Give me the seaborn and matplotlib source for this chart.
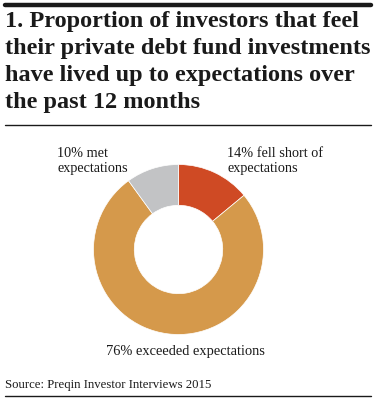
import matplotlib
matplotlib.use("Agg")
import matplotlib.pyplot as plt
import seaborn as sns

# Données du graphique
categories = ["14% fell short of\nexpectations", "76% exceeded expectations", "10% met\nexpectations"]
values = [14, 76, 10]
colors = ["#cf4a24", "#d5994b", "#c2c3c5"]

title = ("1. Proportion of investors that feel\n"
         "their private debt fund investments\n"
         "have lived up to expectations over\n"
         "the past 12 months")
source = "Source: Preqin Investor Interviews 2015"

sns.set_theme(style="white")
plt.rcParams["font.family"] = ["Liberation Serif", "DejaVu Serif"]

fig = plt.figure(figsize=(3.76, 3.99), dpi=100)
W, H = 376, 399

# Lignes horizontales
fig.add_artist(plt.Line2D([5 / W, 371 / W], [1 - 5 / H, 1 - 5 / H], color="#1a1a1a", lw=3.2))
fig.add_artist(plt.Line2D([5 / W, 371 / W], [1 - 125 / H, 1 - 125 / H], color="#1a1a1a", lw=1.0))
fig.add_artist(plt.Line2D([5 / W, 371 / W], [1 - 396 / H, 1 - 396 / H], color="#1a1a1a", lw=1.0))

fig.text(5 / W, 1 - 11 / H, title, ha="left", va="top", fontsize=17.5,
         fontweight="bold", color="#1a1a1a", linespacing=1.37)

# Donut
cx, cy, r = 178.5, 249.5, 85
ax = fig.add_axes([(cx - r) / W, 1 - (cy + r) / H, 2 * r / W, 2 * r / H])
ax.pie(values, colors=colors, startangle=90, counterclock=False,
       wedgeprops=dict(width=0.48, edgecolor="white", linewidth=0.5))
ax.set_xlim(-1, 1)
ax.set_ylim(-1, 1)
ax.set_aspect("equal")
ax.axis("off")

fig.text(227 / W, 1 - 147 / H, categories[0], ha="left", va="top", fontsize=10.3,
         color="#1a1a1a", linespacing=1.2)
fig.text(57 / W, 1 - 147 / H, categories[2], ha="left", va="top", fontsize=10.3,
         color="#1a1a1a", linespacing=1.2)
fig.text(185 / W, 1 - 345 / H, categories[1], ha="center", va="top", fontsize=10.4,
         color="#1a1a1a")

fig.text(5 / W, 1 - 379 / H, source, ha="left", va="top", fontsize=9.2,
         color="#1a1a1a")

fig.savefig("out.png", dpi=100, facecolor="white")
